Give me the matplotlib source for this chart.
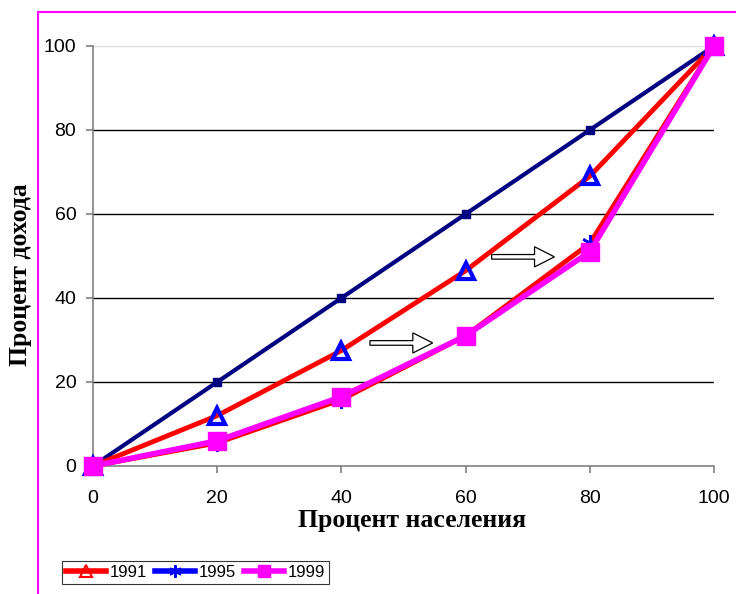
import matplotlib
matplotlib.use("Agg")
import matplotlib.pyplot as plt
from matplotlib.lines import Line2D
from matplotlib.patches import FancyArrow

x = [0, 20, 40, 60, 80, 100]
equality = [0, 20, 40, 60, 80, 100]
y1991 = [0, 12, 27.5, 46.5, 69, 100]
y1995 = [0, 5.5, 15.8, 31, 53, 100]
y1999 = [0, 6, 16.5, 31, 51, 100]
ticks = [0, 20, 40, 60, 80, 100]
labels = ["1991", "1995", "1999"]

fig = plt.figure(figsize=(7.36, 5.94), dpi=100)
ax = fig.add_axes([93/736, 1-466/594, (714-93)/736, (466-46)/594])
ax.set_xlim(0, 100)
ax.set_ylim(0, 100)

# grid lines
for t in ticks[1:]:
    c = "#dddddd" if t == 100 else "black"
    ax.axhline(t, color=c, lw=1.0, zorder=1)

ax.plot(x, equality, color="#000080", lw=3, marker="s", ms=6, mfc="#000080", mec="#000080", zorder=3, clip_on=False)
ax.plot(x, y1991, color="red", lw=3.5, marker="^", ms=12, mfc="none", mec="blue", mew=3, zorder=4, clip_on=False)
ax.plot(x, y1995, color="red", lw=3.5, marker=(6, 2, 0), ms=12, mec="blue", mew=1.8, zorder=5, clip_on=False)
ax.plot(x, y1999, color="magenta", lw=4, marker="s", ms=13, mfc="magenta", mec="magenta", zorder=6, clip_on=False)

# hollow arrows
for ax0, ay in [(44.6, 29.3), (64.2, 49.8)]:
    ax.add_patch(FancyArrow(ax0, ay, 10.1, 0, width=1.1, head_width=4.8, head_length=3.2,
                            length_includes_head=True, fc="white", ec="black", lw=0.9, zorder=7))

for s in ["top", "right"]:
    ax.spines[s].set_visible(False)
for s in ["left", "bottom"]:
    ax.spines[s].set_color("#808080")
    ax.spines[s].set_linewidth(1.2)
ax.set_xticks(ticks)
ax.set_yticks(ticks)
ax.tick_params(colors="#808080", length=5, width=1.2, labelcolor="black", labelsize=14)
ax.tick_params(axis="y", pad=7)
ax.tick_params(axis="x", pad=12)
for lab in ax.get_xticklabels() + ax.get_yticklabels():
    lab.set_family("Liberation Sans")

fig.text(412.5/736, 1-521/594, "Процент населения", family="Liberation Serif", fontweight="bold",
         fontsize=18.5, ha="center", va="center")
fig.text(21/736, 1-275/594, "Процент дохода", family="Liberation Serif", fontweight="bold",
         fontsize=18.5, ha="center", va="center", rotation=90)

handles = [
    Line2D([], [], color="red", lw=4, marker="^", ms=8, mfc="none", mec="red", mew=1.5),
    Line2D([], [], color="blue", lw=4, marker=(6, 2, 0), ms=9, mec="blue", mew=1.5),
    Line2D([], [], color="magenta", lw=4, marker="s", ms=8, mfc="magenta", mec="magenta"),
]
leg = fig.legend(handles, labels, loc="lower left", bbox_to_anchor=(62/736, 1-584/594), ncol=3,
                 frameon=True, fancybox=False, prop={"family": "Liberation Sans", "size": 12},
                 handlelength=2.4, handletextpad=0.2, columnspacing=0.5, borderpad=0.25, borderaxespad=0)
leg.get_frame().set_edgecolor("black")
leg.get_frame().set_linewidth(0.8)

# magenta frame
fig.add_artist(Line2D([38/736, 38/736], [0, 1-12/594], color="magenta", lw=1.5, transform=fig.transFigure))
fig.add_artist(Line2D([38/736, 1], [1-12/594, 1-12/594], color="magenta", lw=1.5, transform=fig.transFigure))

fig.savefig("out.png", dpi=100)
